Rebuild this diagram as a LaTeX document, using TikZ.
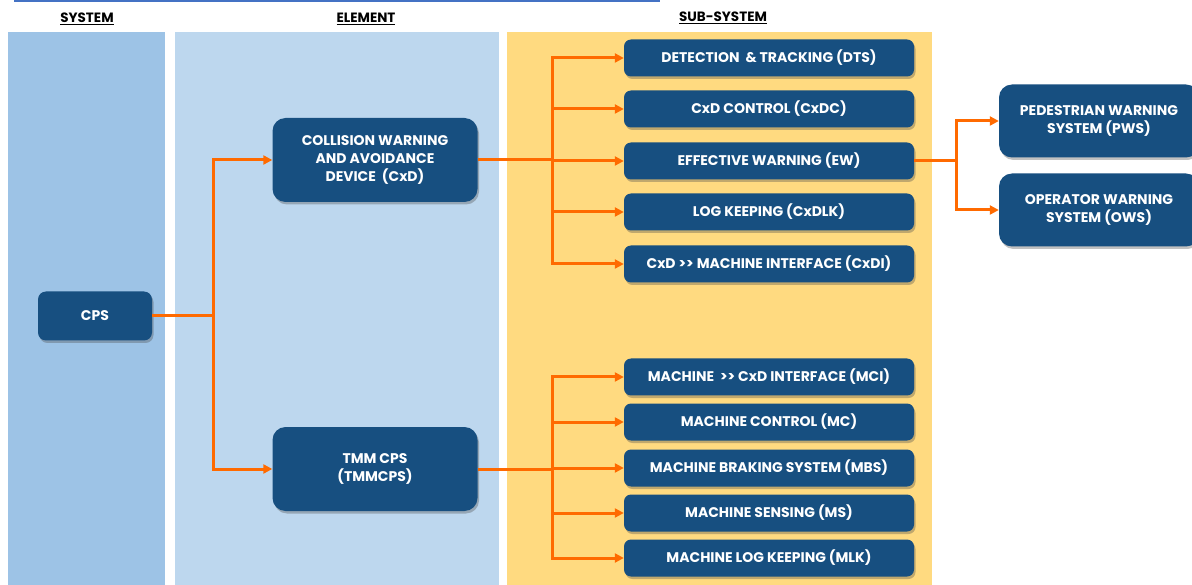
\documentclass[tikz,border=0pt]{standalone}
\usepackage{fontspec}
\setmainfont{Poppins}
\usetikzlibrary{arrows.meta,shadows}
\definecolor{syscol}{HTML}{9DC3E6}
\definecolor{elcol}{HTML}{BDD7EE}
\definecolor{subcol}{HTML}{FFDA80}
\definecolor{boxcol}{HTML}{174F80}
\definecolor{orng}{HTML}{FF6A00}
\definecolor{topline}{HTML}{4472C4}
\tikzset{
  hdr/.style={font=\fontsize{13.5}{16}\selectfont\bfseries, text=black},
  blk/.style={fill=boxcol, text=white, rounded corners=7pt, align=center,
     font=\fontsize{14}{18}\selectfont\bfseries, inner sep=0pt,
     drop shadow={shadow xshift=1.5pt, shadow yshift=-2.5pt, opacity=0.35, fill=black!70}},
  subblk/.style={blk, minimum width=290pt, minimum height=37pt},
  bigblk/.style={blk, rounded corners=13pt, minimum width=205pt, minimum height=84pt},
  outblk/.style={blk, rounded corners=13pt, minimum width=200pt, minimum height=73pt},
  conn/.style={draw=orng, line width=3pt},
  arr/.style={conn, -{Triangle[length=9pt,width=9pt]}},
}
\begin{document}
\begin{tikzpicture}[x=1pt,y=-1pt]
\useasboundingbox (0,0) rectangle (1192,585);
% panels
\fill[syscol] (8,32) rectangle (165,585);
\fill[elcol] (175,32) rectangle (499,585);
\fill[subcol] (507,32) rectangle (932,585);
\draw[topline, line width=1.5pt] (14,1) -- (660,1);
% headers
\node[hdr] (hsys) at (87,19) {\underline{SYSTEM}};
\node[hdr] (hel) at (366,19) {\underline{ELEMENT}};
\node[hdr] (hsub) at (723,18) {\underline{SUB-SYSTEM}};
% nodes
\node[blk, rounded corners=8pt, minimum width=114pt, minimum height=49pt] (cps) at (95,316) {CPS};
\node[bigblk] (cxd) at (375,160) {COLLISION WARNING\\AND AVOIDANCE\\DEVICE\ \ (CxD)};
\node[bigblk] (tmm) at (375,469) {TMM CPS\\(TMMCPS)};
\node[subblk] (dts) at (769,58) {DETECTION\ \ \& TRACKING (DTS)};
\node[subblk] (cxdc) at (769,109) {CxD CONTROL (CxDC)};
\node[subblk] (ew) at (769,161) {EFFECTIVE WARNING (EW)};
\node[subblk] (cxdlk) at (769,212) {LOG KEEPING (CxDLK)};
\node[subblk] (cxdi) at (769,264) {CxD >{}> MACHINE INTERFACE (CxDI)};
\node[subblk] (mci) at (769,377) {MACHINE\ \ >{}> CxD INTERFACE (MCI)};
\node[subblk] (mc) at (769,422) {MACHINE CONTROL (MC)};
\node[subblk] (mbs) at (769,468) {MACHINE BRAKING SYSTEM (MBS)};
\node[subblk] (ms) at (769,513) {MACHINE SENSING (MS)};
\node[subblk] (mlk) at (769,558) {MACHINE LOG KEEPING (MLK)};
\node[outblk] (pws) at (1099,121) {PEDESTRIAN WARNING\\SYSTEM (PWS)};
\node[outblk] (ows) at (1099,210) {OPERATOR WARNING\\SYSTEM (OWS)};
% junctions
\coordinate (j1) at (213,316);
\coordinate (j2) at (552,160);
\coordinate (j3) at (552,469);
\coordinate (j4) at (956,161);
% connectors
\draw[conn] (cps.east) -- (j1);
\draw[arr] (j1) |- (cxd.west);
\draw[arr] (j1) |- (tmm.west);
\draw[conn] (cxd.east) -- (j2);
\foreach \n in {dts,cxdc,ew,cxdlk,cxdi} { \draw[arr] (j2) |- (\n.west); }
\draw[conn] (tmm.east) -- (j3);
\foreach \n in {mci,mc,mbs,ms,mlk} { \draw[arr] (j3) |- (\n.west); }
\draw[conn] (ew.east) -- (j4);
\draw[arr] (j4) |- (pws.west);
\draw[arr] (j4) |- (ows.west);
\end{tikzpicture}
\end{document}
